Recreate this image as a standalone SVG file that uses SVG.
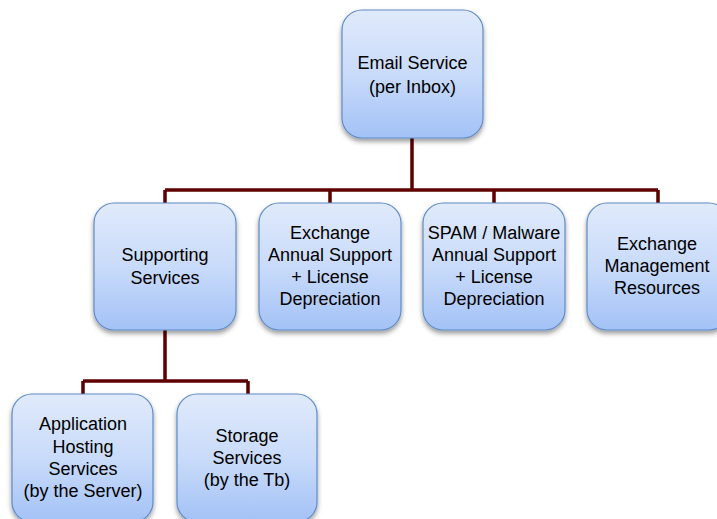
<svg xmlns="http://www.w3.org/2000/svg" width="717" height="519" viewBox="0 0 717 519">
<defs>
<linearGradient id="g" x1="0" y1="0" x2="0" y2="1">
<stop offset="0" stop-color="#e0eafb"/>
<stop offset="0.5" stop-color="#c9dbfa"/>
<stop offset="1" stop-color="#a3c2f6"/>
</linearGradient>
<filter id="sh" x="-20%" y="-20%" width="140%" height="140%">
<feGaussianBlur in="SourceAlpha" stdDeviation="2.5"/>
<feOffset dx="0" dy="3" result="b"/>
<feComponentTransfer><feFuncA type="linear" slope="0.4"/></feComponentTransfer>
<feMerge><feMergeNode/><feMergeNode in="SourceGraphic"/></feMerge>
</filter>
</defs>
<style>
.box{fill:url(#g);stroke:#5f8cc6;stroke-width:1.2;filter:url(#sh)}
.t{font-family:"Liberation Sans",Arial,sans-serif;font-size:18px;fill:#000;text-anchor:middle}
.c{fill:none;stroke:#5e0000;stroke-width:3.5}
</style>
<rect width="717" height="519" fill="#fff"/>
<g id="connectors">
<path class="c" d="M412 138V190M165 190H658M165 190V203M330 190V203M494 190V203M658 190V203"/>
<path class="c" d="M165 330V381M83 381H248M83 381V394M248 381V394"/>
</g>
<g id="email">
<rect class="box" x="342" y="10" width="141" height="128" rx="20"/>
<text class="t" x="412.5" y="69">Email Service</text>
<text class="t" x="412.5" y="93">(per Inbox)</text>
</g>
<g id="supporting">
<rect class="box" x="94" y="203" width="142" height="127" rx="20"/>
<text class="t" x="165" y="261">Supporting</text>
<text class="t" x="165" y="284">Services</text>
</g>
<g id="exchange">
<rect class="box" x="259" y="203" width="142" height="127" rx="20"/>
<text class="t" x="330" y="239">Exchange</text>
<text class="t" x="330" y="261">Annual Support</text>
<text class="t" x="330" y="283">+ License</text>
<text class="t" x="330" y="305">Depreciation</text>
</g>
<g id="spam">
<rect class="box" x="423" y="203" width="142" height="127" rx="20"/>
<text class="t" x="494" y="239">SPAM / Malware</text>
<text class="t" x="494" y="261">Annual Support</text>
<text class="t" x="494" y="283">+ License</text>
<text class="t" x="494" y="305">Depreciation</text>
</g>
<g id="management">
<rect class="box" x="587" y="203" width="142" height="127" rx="20"/>
<text class="t" x="657" y="250">Exchange</text>
<text class="t" x="657" y="272">Management</text>
<text class="t" x="657" y="294">Resources</text>
</g>
<g id="application">
<rect class="box" x="12" y="394" width="141" height="128" rx="20"/>
<text class="t" x="83" y="430">Application</text>
<text class="t" x="83" y="453">Hosting</text>
<text class="t" x="83" y="475">Services</text>
<text class="t" x="83" y="497">(by the Server)</text>
</g>
<g id="storage">
<rect class="box" x="177" y="394" width="140" height="128" rx="20"/>
<text class="t" x="247" y="442">Storage</text>
<text class="t" x="247" y="464">Services</text>
<text class="t" x="247" y="486">(by the Tb)</text>
</g>
</svg>
